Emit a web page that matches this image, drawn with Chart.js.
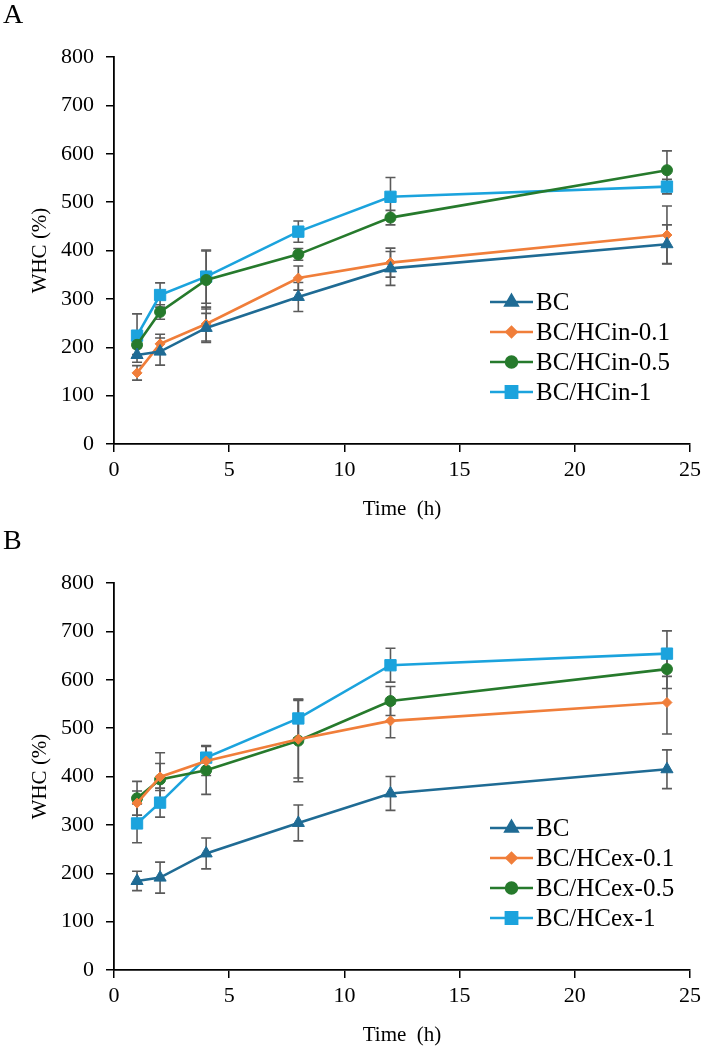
<!DOCTYPE html>
<html>
<head>
<meta charset="utf-8">
<script src="https://cdn.jsdelivr.net/npm/chart.js@4.4.1/dist/chart.umd.min.js"></script>
<style>
  html, body { margin: 0; padding: 0; background: #fff; }
  .panel { position: relative; width: 706px; height: 526px; }
  canvas { display: block; }
</style>
</head>
<body>
<div class="panel"><canvas id="chartA" width="706" height="526"></canvas></div>
<div class="panel"><canvas id="chartB" width="706" height="526"></canvas></div>
<script>
// ---- data ----
const times = [1, 2, 4, 8, 12, 24];
const xTickValues = [0, 5, 10, 15, 20, 25];
const yTickValues = [0, 100, 200, 300, 400, 500, 600, 700, 800];
const xTitle = 'Time  (h)';
const yTitle = 'WHC (%)';

// Panel A
const labelsA = ['BC', 'BC/HCin-0.1', 'BC/HCin-0.5', 'BC/HCin-1'];
const bcA = [184, 191, 240, 304, 363, 413];
const hcin01 = [147, 207, 248, 343, 375, 432];
const hcin05 = [205, 273, 339, 392, 468, 566];
const hcin1 = [224, 308, 346, 439, 511, 532];
const bcAErr = [15, 28, 30, 30, 35, 40];
const hcin01Err = [15, 20, 35, 25, 30, 60];
const hcin05Err = [20, 15, 60, 12, 15, 40];
const hcin1Err = [45, 25, 55, 22, 40, 15];

// Panel B
const labelsB = ['BC', 'BC/HCex-0.1', 'BC/HCex-0.5', 'BC/HCex-1'];
const bcB = [184, 191, 241, 304, 365, 415];
const hcex01 = [345, 399, 432, 477, 515, 553];
const hcex05 = [355, 394, 413, 474, 556, 622];
const hcex1 = [303, 346, 439, 520, 630, 654];
const bcBErr = [20, 32, 32, 37, 35, 40];
const hcex01Err = [25, 28, 30, 80, 35, 65];
const hcex05Err = [35, 55, 50, 85, 30, 40];
const hcex1Err = [40, 30, 25, 40, 35, 47];

// ---- styles ----
const colors = ['#1f6b94', '#f07e3a', '#267a2c', '#1ba3dd'];
const pointStyles = ['triangle', 'rectRot', 'circle', 'rect'];
const pointRadii = [7, 5, 5.5, 8];
const FONT = '"Liberation Serif", "Times New Roman", serif';

function toXY(vals) { return vals.map((v, i) => ({ x: times[i], y: v })); }

const errorBarPlugin = {
  id: 'errorBars',
  beforeDatasetsDraw(chart) {
    const ctx = chart.ctx;
    const xs = chart.scales.x, ys = chart.scales.y;
    ctx.save();
    ctx.strokeStyle = '#5a5a5a';
    ctx.lineWidth = 1.6;
    chart.data.datasets.forEach(ds => {
      ds.data.forEach((p, i) => {
        const e = ds.errors[i];
        const px = xs.getPixelForValue(p.x);
        const top = ys.getPixelForValue(p.y + e);
        const bot = ys.getPixelForValue(p.y - e);
        ctx.beginPath();
        ctx.moveTo(px, top); ctx.lineTo(px, bot);
        ctx.moveTo(px - 5, top); ctx.lineTo(px + 5, top);
        ctx.moveTo(px - 5, bot); ctx.lineTo(px + 5, bot);
        ctx.stroke();
      });
    });
    ctx.restore();
  }
};

const customLegendPlugin = {
  id: 'customLegend',
  afterDraw(chart, args, opts) {
    const ctx = chart.ctx;
    ctx.save();
    chart.data.datasets.forEach((ds, i) => {
      const y = opts.y0 + i * opts.dy;
      ctx.strokeStyle = ds.borderColor;
      ctx.lineWidth = 2.5;
      ctx.beginPath();
      ctx.moveTo(opts.x0, y); ctx.lineTo(opts.x1, y);
      ctx.stroke();
      ctx.fillStyle = ds.borderColor;
      ctx.strokeStyle = ds.borderColor;
      Chart.helpers.drawPoint(ctx, { pointStyle: ds.pointStyle, radius: ds.pointRadius, rotation: 0, borderWidth: 1 }, (opts.x0 + opts.x1) / 2, y);
      ctx.fillStyle = '#000';
      ctx.font = '25px ' + FONT;
      ctx.textBaseline = 'middle';
      ctx.textAlign = 'left';
      ctx.fillText(ds.label, opts.x1 + 3, y + 1);
    });
    ctx.restore();
  }
};

const panelLetterPlugin = {
  id: 'panelLetter',
  afterDraw(chart, args, opts) {
    const ctx = chart.ctx;
    ctx.save();
    ctx.fillStyle = '#000';
    ctx.font = '28px ' + FONT;
    ctx.textBaseline = 'top';
    ctx.textAlign = 'left';
    ctx.fillText(opts.text, 3, 2);
    ctx.restore();
  }
};

function makeChart(id, letter, labels, series, errs) {
  const datasets = series.map((vals, i) => ({
    label: labels[i],
    data: toXY(vals),
    errors: errs[i],
    borderColor: colors[i],
    backgroundColor: colors[i],
    pointBackgroundColor: colors[i],
    pointBorderColor: colors[i],
    pointStyle: pointStyles[i],
    pointRadius: pointRadii[i],
    pointBorderWidth: 1,
    borderWidth: 2.6,
    tension: 0
  }));
  return new Chart(document.getElementById(id), {
    type: 'line',
    data: { datasets },
    plugins: [errorBarPlugin, customLegendPlugin, panelLetterPlugin],
    options: {
      responsive: false,
      animation: false,
      layout: { padding: { top: 57, right: 14, left: 24, bottom: 0 } },
      plugins: {
        legend: { display: false },
        tooltip: { enabled: false },
        customLegend: { x0: 490, x1: 533, y0: 302, dy: 30 },
        panelLetter: { text: letter }
      },
      scales: {
        x: {
          type: 'linear',
          min: 0, max: 25,
          afterBuildTicks: s => { s.ticks = xTickValues.map(v => ({ value: v })); },
          afterFit: s => { s.height = 526 - 444; },
          grid: { drawOnChartArea: false, drawTicks: true, tickLength: 8, color: '#000', lineWidth: 1.5 },
          border: { color: '#000', width: 1.8 },
          ticks: { color: '#000', font: { family: FONT, size: 22 }, padding: 5, maxRotation: 0 },
          title: { display: true, text: xTitle, color: '#000', font: { family: FONT, size: 21 }, padding: { top: 2 } }
        },
        y: {
          type: 'linear',
          min: 0, max: 800,
          afterBuildTicks: s => { s.ticks = yTickValues.map(v => ({ value: v })); },
          afterFit: s => { s.width = 90; },
          grid: { drawOnChartArea: false, drawTicks: true, tickLength: 8, color: '#000', lineWidth: 1.5 },
          border: { color: '#000', width: 1.8 },
          ticks: { color: '#000', font: { family: FONT, size: 22 }, padding: 12 },
          title: { display: true, text: yTitle, color: '#000', font: { family: FONT, size: 21 }, padding: { bottom: 4 } }
        }
      }
    }
  });
}

makeChart('chartA', 'A', labelsA, [bcA, hcin01, hcin05, hcin1], [bcAErr, hcin01Err, hcin05Err, hcin1Err]);
makeChart('chartB', 'B', labelsB, [bcB, hcex01, hcex05, hcex1], [bcBErr, hcex01Err, hcex05Err, hcex1Err]);
</script>
</body>
</html>
